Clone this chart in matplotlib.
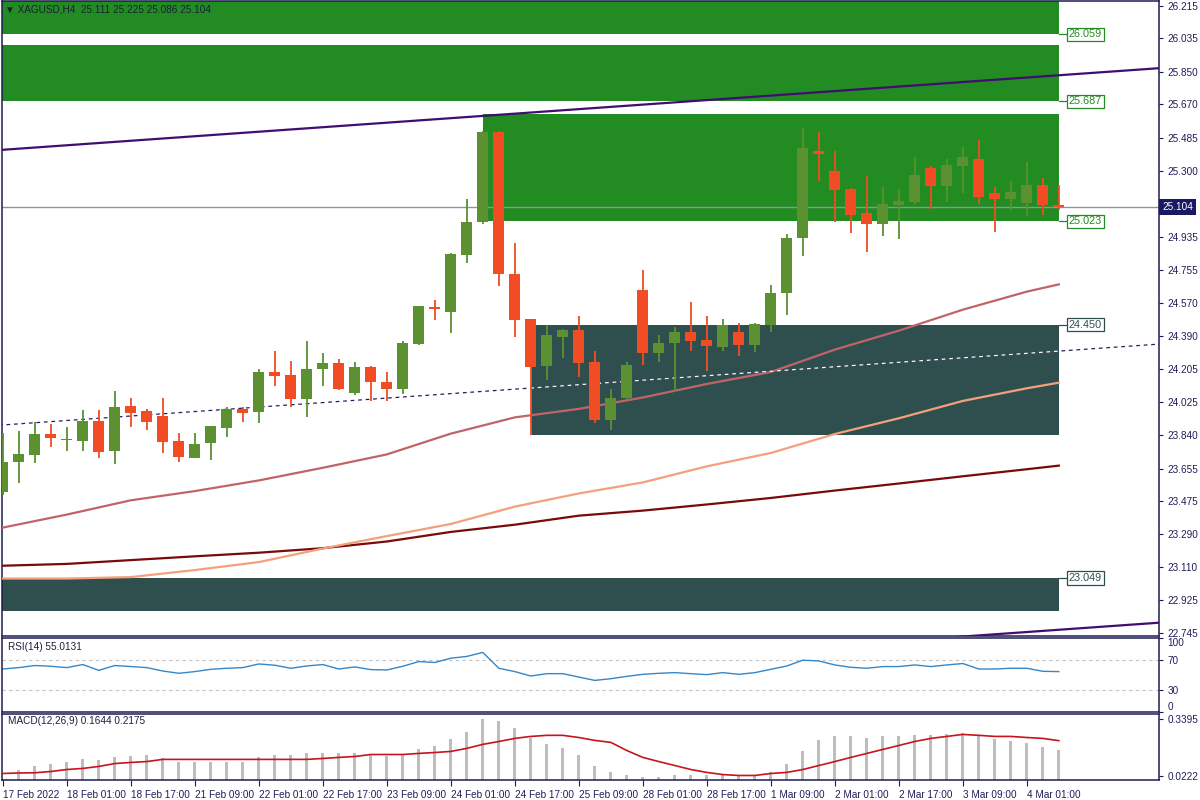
import numpy as np
import matplotlib
matplotlib.use("Agg")
import matplotlib.pyplot as plt
from matplotlib.patches import Rectangle
import matplotlib.transforms as mtransforms

plt.rcParams["font.family"] = ["Liberation Sans", "DejaVu Sans"]

# ---------------- data ----------------
opens = [23.527, 23.690, 23.732, 23.846, 23.811, 23.809, 23.918, 23.754, 24.001, 23.974,
         23.946, 23.808, 23.715, 23.795, 23.881, 23.985, 23.970, 24.189, 24.171, 24.038,
         24.208, 24.238, 24.075, 24.215, 24.132, 24.097, 24.344, 24.547, 24.523, 24.839,
         25.019, 25.519, 24.732, 24.481, 24.223, 24.385, 24.422, 24.245, 23.924, 24.044,
         24.643, 24.296, 24.348, 24.411, 24.366, 24.329, 24.411, 24.339, 24.449, 24.625,
         24.933, 25.412, 25.302, 25.202, 25.069, 25.010, 25.114, 25.132, 25.317, 25.220,
         25.331, 25.366, 25.180, 25.147, 25.126, 25.224, 25.111]
highs = [23.850, 23.863, 23.914, 23.900, 23.883, 23.979, 23.979, 24.084, 24.044, 23.983,
         24.044, 23.850, 23.850, 23.892, 23.994, 23.998, 24.204, 24.306, 24.250, 24.363,
         24.293, 24.260, 24.245, 24.224, 24.188, 24.363, 24.557, 24.588, 24.846, 25.147,
         25.522, 25.522, 24.902, 24.483, 24.449, 24.426, 24.499, 24.307, 24.094, 24.246,
         24.754, 24.394, 24.440, 24.575, 24.499, 24.481, 24.462, 24.462, 24.671, 24.953,
         25.538, 25.519, 25.412, 25.209, 25.274, 25.215, 25.202, 25.378, 25.329, 25.366,
         25.436, 25.473, 25.215, 25.246, 25.353, 25.261, 25.225]
lows = [23.509, 23.577, 23.687, 23.776, 23.754, 23.754, 23.715, 23.679, 23.887, 23.868,
        23.739, 23.693, 23.712, 23.702, 23.828, 23.914, 23.905, 24.114, 23.994, 23.939,
        24.114, 24.090, 24.064, 24.027, 24.031, 24.069, 24.339, 24.477, 24.404, 24.794,
        25.008, 24.667, 24.385, 23.841, 24.145, 24.265, 24.160, 23.905, 23.868, 24.040,
        24.228, 24.246, 24.086, 24.307, 24.197, 24.307, 24.278, 24.302, 24.412, 24.505,
        24.833, 25.248, 25.018, 24.957, 24.855, 24.944, 24.927, 25.119, 25.091, 25.132,
        25.178, 25.119, 24.966, 25.086, 25.053, 25.058, 25.086]
closes = [23.693, 23.736, 23.846, 23.826, 23.813, 23.918, 23.748, 23.996, 23.964, 23.914,
          23.804, 23.721, 23.791, 23.891, 23.985, 23.964, 24.189, 24.169, 24.038, 24.208,
          24.238, 24.094, 24.215, 24.136, 24.097, 24.350, 24.555, 24.540, 24.842, 25.019,
          25.519, 24.730, 24.477, 24.219, 24.394, 24.422, 24.241, 23.924, 24.044, 24.228,
          24.296, 24.348, 24.411, 24.363, 24.335, 24.449, 24.339, 24.455, 24.628, 24.933,
          25.427, 25.397, 25.197, 25.058, 25.010, 25.119, 25.136, 25.280, 25.220, 25.335,
          25.378, 25.158, 25.147, 25.185, 25.224, 25.111, 25.104]

tick_labels = ["17 Feb 2022", "18 Feb 01:00", "18 Feb 17:00", "21 Feb 09:00", "22 Feb 01:00",
               "22 Feb 17:00", "23 Feb 09:00", "24 Feb 01:00", "24 Feb 17:00", "25 Feb 09:00",
               "28 Feb 01:00", "28 Feb 17:00", "1 Mar 09:00", "2 Mar 01:00", "2 Mar 17:00",
               "3 Mar 09:00", "4 Mar 01:00"]

# moving averages (read at every 4th bar + last bar)
ma_idx = [0, 4, 8, 12, 16, 20, 24, 28, 32, 36, 40, 44, 48, 52, 56, 60, 64, 66]
ma_fast = [23.328, 23.400, 23.479, 23.530, 23.589, 23.659, 23.733, 23.848, 23.938, 23.985,
           24.048, 24.123, 24.189, 24.313, 24.418, 24.534, 24.634, 24.674]
ma_mid = [23.046, 23.046, 23.054, 23.093, 23.137, 23.212, 23.281, 23.348, 23.444, 23.517,
          23.578, 23.667, 23.741, 23.846, 23.933, 24.029, 24.099, 24.130]
ma_slow = [23.117, 23.127, 23.148, 23.169, 23.189, 23.214, 23.251, 23.304, 23.344, 23.394,
           23.422, 23.456, 23.492, 23.533, 23.572, 23.612, 23.651, 23.671]

# zones (supply = green, demand = dark slate)
zone_low = [26.059, 25.687, 25.023, 23.841, 22.867]
zone_high = [26.400, 25.999, 25.617, 24.450, 23.049]
zone_start = [-2, -2, 30, 33, -2]
zone_end = 66
zone_label = [26.059, 25.687, 25.023, 24.450, 23.049]
zone_kind = ["supply", "supply", "supply", "demand", "demand"]

# trend lines: (x0, y0, x1, y1)
channel_upper = (0, 25.419, 72, 25.869)
channel_lower = (0, 22.350, 72, 22.800)
dotted_trend = (0, 23.896, 72, 24.342)

price_ticks = [26.215, 26.035, 25.850, 25.670, 25.485, 25.300, 24.935, 24.755, 24.570,
               24.390, 24.205, 24.025, 23.840, 23.655, 23.475, 23.290, 23.110, 22.925, 22.745]
last_price = 25.104

rsi = [58.1, 60.0, 62.8, 61.8, 60.0, 64.1, 56.3, 62.8, 61.4, 60.0,
       55.4, 52.3, 54.6, 57.7, 59.1, 60.0, 64.9, 63.2, 59.1, 62.2,
       64.1, 58.1, 60.9, 57.3, 56.8, 61.8, 68.2, 66.9, 72.7, 75.1,
       80.5, 59.1, 54.6, 48.6, 51.8, 51.8, 47.2, 42.7, 45.0, 48.2,
       50.9, 52.3, 53.2, 51.8, 50.5, 53.2, 50.9, 53.2, 57.7, 62.2,
       70.0, 69.0, 63.6, 60.4, 59.1, 61.4, 61.4, 63.6, 61.4, 63.6,
       65.5, 58.1, 58.1, 59.1, 59.1, 55.0, 54.6]

macd_hist = [np.nan, 0.058, 0.080, 0.091, 0.102, 0.114, 0.108, 0.125, 0.130, 0.136,
             0.119, 0.102, 0.097, 0.102, 0.102, 0.102, 0.125, 0.136, 0.136, 0.147,
             0.152, 0.147, 0.147, 0.141, 0.130, 0.141, 0.169, 0.186, 0.224, 0.263,
             0.3395, 0.324, 0.285, 0.230, 0.197, 0.175, 0.136, 0.075, 0.043, 0.025,
             0.018, 0.018, 0.025, 0.025, 0.025, 0.025, 0.021, 0.025, 0.047, 0.091,
             0.163, 0.219, 0.241, 0.241, 0.235, 0.241, 0.241, 0.247, 0.247, 0.252,
             0.258, 0.247, 0.224, 0.213, 0.202, 0.180, 0.1644]
macd_signal = [0.036, 0.039, 0.040, 0.047, 0.058, 0.064, 0.075, 0.091, 0.097, 0.102,
               0.114, 0.114, 0.114, 0.114, 0.114, 0.114, 0.114, 0.114, 0.114, 0.114,
               0.119, 0.125, 0.130, 0.141, 0.141, 0.141, 0.147, 0.152, 0.158, 0.175,
               0.197, 0.213, 0.230, 0.241, 0.247, 0.247, 0.235, 0.219, 0.208, 0.163,
               0.125, 0.102, 0.080, 0.058, 0.042, 0.030, 0.025, 0.025, 0.036, 0.042,
               0.058, 0.080, 0.102, 0.125, 0.147, 0.169, 0.191, 0.213, 0.230, 0.241,
               0.252, 0.247, 0.241, 0.241, 0.235, 0.230, 0.2175]
macd_ticks = [0.3395, 0.0222]

# ---------------- style ----------------
W, H = 1200, 800
NAVY = "#1c1c54"
TXT = "#1e1e5a"
BULL = "#5b9130"
BEAR = "#f14c24"
SUPPLY = "#228b22"
DEMAND = "#2f4f4f"
FS = 7.2

fig = plt.figure(figsize=(12, 8), dpi=100)
fig.patch.set_facecolor("white")


def ax_rect(x0, y0, x1, y1):
    return [x0 / W, 1 - y1 / H, (x1 - x0) / W, (y1 - y0) / H]


ax = fig.add_axes(ax_rect(2, 1, 1159, 636))
ax_rsi = fig.add_axes(ax_rect(2, 638, 1159, 712), sharex=ax)
ax_macd = fig.add_axes(ax_rect(2, 714, 1159, 780), sharex=ax)

xlim = (-0.05, 72.26)
for a in (ax, ax_rsi, ax_macd):
    a.set_facecolor("white")
    for s in a.spines.values():
        s.set_color(NAVY)
        s.set_linewidth(1.1)
    a.yaxis.tick_right()
    a.tick_params(axis="y", direction="out", length=3, width=0.8, colors=NAVY,
                  labelcolor=TXT, labelsize=FS, pad=3)
    a.tick_params(axis="x", which="both", bottom=False, labelbottom=False)
ax.set_xlim(*xlim)

# ---------------- main chart ----------------
ax.set_ylim(22.728, 26.2425)
ax.set_yticks(price_ticks)
ax.set_yticklabels([f"{v:.3f}" for v in price_ticks])

zone_patches = []
for lo, hi, s, kind in zip(zone_low, zone_high, zone_start, zone_kind):
    col = SUPPLY if kind == "supply" else DEMAND
    r = Rectangle((s, lo), zone_end - s, hi - lo, facecolor=col, edgecolor="none", zorder=1)
    ax.add_patch(r)
    zone_patches.append(r)

for lvl, kind in zip(zone_label, zone_kind):
    col = SUPPLY if kind == "supply" else DEMAND
    ax.plot([zone_end, 66.6], [lvl, lvl], color=col, lw=0.9, zorder=6, clip_on=False)
    ax.text(66.62, lvl, f"{lvl:.3f}", color=col, fontsize=FS + 0.6, va="center", ha="left",
            zorder=7, bbox=dict(boxstyle="square,pad=0.15", fc="white", ec=col, lw=0.9))

# current price line
ax.axhline(last_price, color="#8a969c", lw=1.0, zorder=2.5)

# moving averages
ax.plot(ma_idx, ma_slow, color="#7a0a0a", lw=1.6, zorder=3)
ax.plot(ma_idx, ma_mid, color="#f4a07c", lw=1.6, zorder=3)
ax.plot(ma_idx, ma_fast, color="#c06468", lw=1.6, zorder=3)

# trend lines
for (x0, y0, x1, y1) in (channel_upper, channel_lower):
    sl = (y1 - y0) / (x1 - x0)
    ax.plot([x0 - 1, x1 + 1], [y0 - sl, y1 + sl], color="#3f0e70", lw=1.6, zorder=3)
x0, y0, x1, y1 = dotted_trend
sl = (y1 - y0) / (x1 - x0)
ax.plot([x0 - 1, x1 + 1], [y0 - sl, y1 + sl], color="#2b1b5c", lw=0.9,
        dashes=(3, 3), zorder=3.2)
wl, = ax.plot([x0 - 1, x1 + 1], [y0 - sl, y1 + sl], color="white", lw=0.9,
              dashes=(3, 3), zorder=3.3)
wl.set_clip_path(zone_patches[3])

# candles
x = np.arange(len(opens))
O = np.array(opens); Hh = np.array(highs); L = np.array(lows); C = np.array(closes)
cols = np.where(C >= O, BULL, BEAR)
ax.vlines(x, L, Hh, colors=cols, lw=1.3, zorder=4)
ax.bar(x, np.maximum(np.abs(C - O), 0.005), bottom=np.minimum(O, C), width=0.68,
       color=cols, linewidth=0, zorder=5)

# price tag on axis
tr = mtransforms.blended_transform_factory(ax.transAxes, ax.transData)
ax.text(1.003, last_price, f"{last_price:.3f}", transform=tr, color="white", fontsize=FS,
        va="center", ha="left", zorder=10, clip_on=False,
        bbox=dict(boxstyle="square,pad=0.3", fc="#1a1a64", ec="none"))

fig.text(5 / W, 1 - 10 / H, "\u25BC XAGUSD,H4  25.111 25.225 25.086 25.104",
         fontsize=FS, color="#1e1e3c", va="center", ha="left")

# ---------------- RSI ----------------
ax_rsi.set_ylim(0, 100)
ax_rsi.set_yticks([100, 70, 30, 0])
ax_rsi.set_yticklabels(["100", "70", "30", "0"])
lbls = ax_rsi.get_yticklabels()
lbls[0].set_va("top")
lbls[3].set_va("bottom")
for lv in (70, 30):
    ax_rsi.axhline(lv, color="#c4c4c4", lw=0.8, dashes=(3, 3))
ax_rsi.plot(x, rsi, color="#3487c9", lw=1.0)
ax_rsi.text(6 / 1157, 0.88, "RSI(14) 55.0131", transform=ax_rsi.transAxes,
            fontsize=FS, color="#1e1e3c", va="center", ha="left")

# ---------------- MACD ----------------
ax_macd.set_ylim(0, 0.365)
ax_macd.set_yticks(macd_ticks)
ax_macd.set_yticklabels([f"{v:.4f}" for v in macd_ticks])
ax_macd.bar(x, macd_hist, width=0.2, color="#bdbdbd", linewidth=0, zorder=2)
ax_macd.plot(x, macd_signal, color="#c8141e", lw=1.2, zorder=3)
ax_macd.text(6 / 1157, 0.9, "MACD(12,26,9) 0.1644 0.2175", transform=ax_macd.transAxes,
             fontsize=FS, color="#1e1e3c", va="center", ha="left")

ax_macd.set_xticks(np.arange(0, 4 * len(tick_labels), 4))
ax_macd.set_xticklabels(tick_labels, ha="left")
ax_macd.tick_params(axis="x", which="both", bottom=True, labelbottom=True, direction="out",
                    length=4, width=0.8, colors=NAVY, labelcolor=TXT, labelsize=FS, pad=3)
ax_macd.set_xlim(*xlim)

fig.savefig("out.png", dpi=100, facecolor="white")
